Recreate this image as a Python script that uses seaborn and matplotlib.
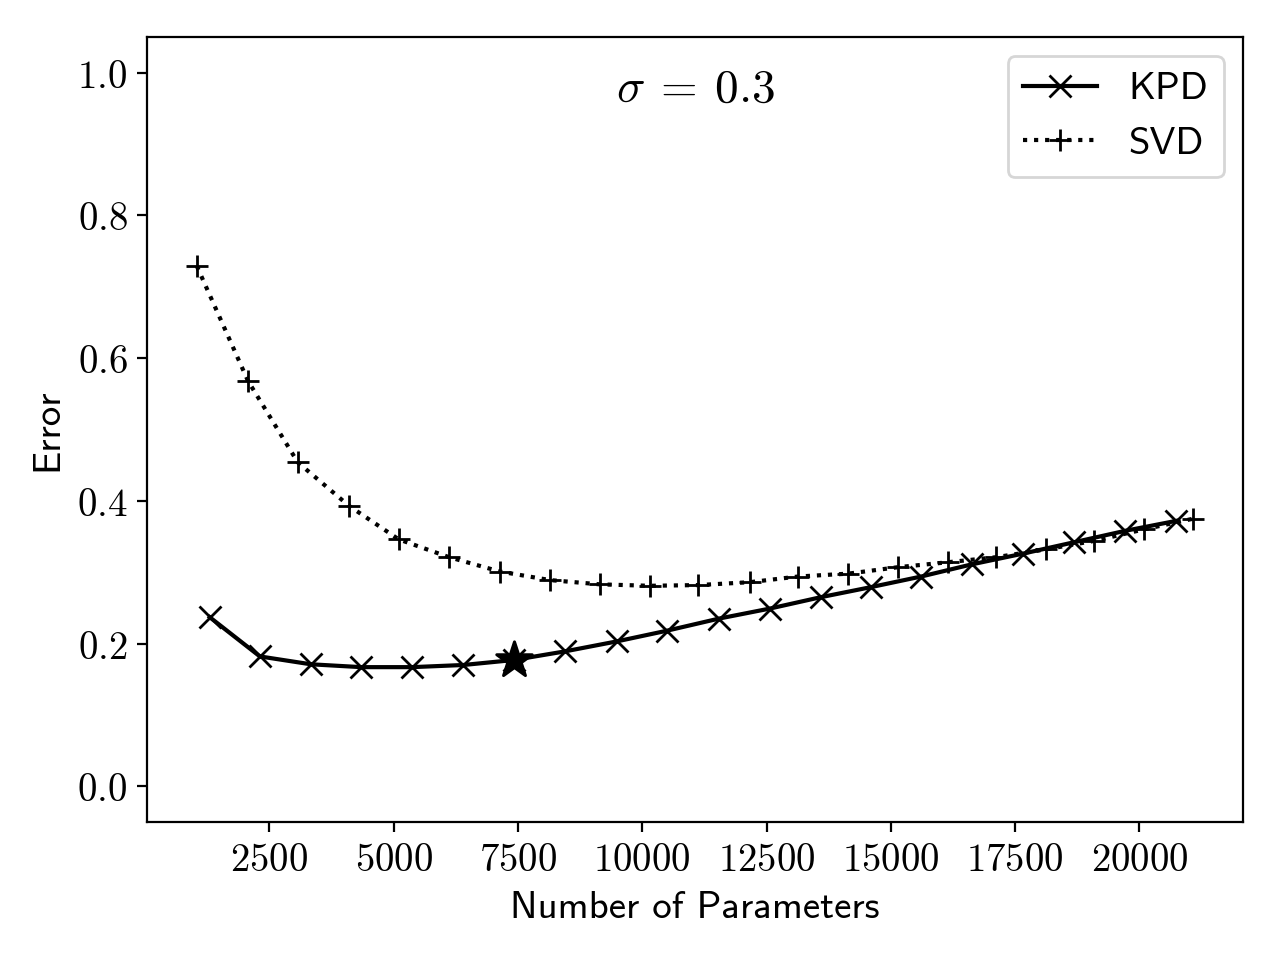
import numpy as np
import pandas as pd
import matplotlib
matplotlib.use("Agg")
import matplotlib.pyplot as plt
from matplotlib.ticker import FuncFormatter, MultipleLocator
import seaborn as sns

# ---- data ----
kpd_params = [1299, 2309, 3333, 4348, 5370, 6400, 7416, 8439, 9483, 10493,
              11541, 12562, 13590, 14592, 15612, 16627, 17655, 18685, 19713, 20742]
kpd_error = [0.237, 0.182, 0.171, 0.167, 0.167, 0.170, 0.177, 0.189, 0.203, 0.218,
             0.235, 0.249, 0.265, 0.279, 0.294, 0.311, 0.326, 0.342, 0.358, 0.372]

svd_params = [1040, 2070, 3071, 4101, 5103, 6118, 7134, 8144, 9151, 10153,
              11128, 12158, 13136, 14143, 15137, 16150, 17110, 18117, 19097, 20089, 21082]
svd_error = [0.729, 0.568, 0.454, 0.393, 0.346, 0.321, 0.301, 0.289, 0.283, 0.281,
             0.282, 0.286, 0.294, 0.298, 0.307, 0.314, 0.321, 0.332, 0.344, 0.360, 0.375]

star_index = 6  # highlighted KPD point
sigma_label = r"$\sigma\:=\:0.3$"
x_label = "Number of Parameters"
y_label = "Error"

plt.rcParams["mathtext.fontset"] = "cm"
plt.rcParams["axes.unicode_minus"] = False

fig, ax = plt.subplots(figsize=(6.4, 4.8), dpi=200)

kpd_df = pd.DataFrame({"params": kpd_params, "error": kpd_error})
svd_df = pd.DataFrame({"params": svd_params, "error": svd_error})

sns.lineplot(data=kpd_df, x="params", y="error", ax=ax, color="k", linestyle="-",
             marker="x", markersize=8, markeredgecolor="k", markeredgewidth=1.0,
             linewidth=1.5, label="KPD")
sns.lineplot(data=svd_df, x="params", y="error", ax=ax, color="k", linestyle=":",
             marker="+", markersize=8, markeredgecolor="k", markeredgewidth=1.0,
             linewidth=1.5, label="SVD")
sns.scatterplot(x=[kpd_params[star_index]], y=[kpd_error[star_index]], ax=ax,
                marker="*", s=180, color="k", edgecolor="k", zorder=5, legend=False)

ax.set_ylim(-0.05, 1.05)
ax.yaxis.set_major_locator(MultipleLocator(0.2))
ax.xaxis.set_major_locator(MultipleLocator(2500))
ax.xaxis.set_major_formatter(FuncFormatter(lambda v, p: f"${int(round(v))}$"))
ax.yaxis.set_major_formatter(FuncFormatter(lambda v, p: f"${v:.1f}$"))
ax.tick_params(labelsize=14)

ax.set_xlabel(x_label, fontname="cmss10", fontsize=14)
ax.set_ylabel(y_label, fontname="cmss10", fontsize=14)

ax.text(0.5, 0.962, sigma_label, transform=ax.transAxes, ha="center", va="top",
        fontsize=17)

leg = ax.legend(loc="upper right", prop={"family": "cmss10", "size": 14},
                borderaxespad=0.5, handlelength=1.9)

fig.subplots_adjust(left=147 / 1280, right=1243 / 1280,
                    bottom=1 - 822 / 960, top=1 - 37 / 960)
fig.savefig("out.png", dpi=200)
